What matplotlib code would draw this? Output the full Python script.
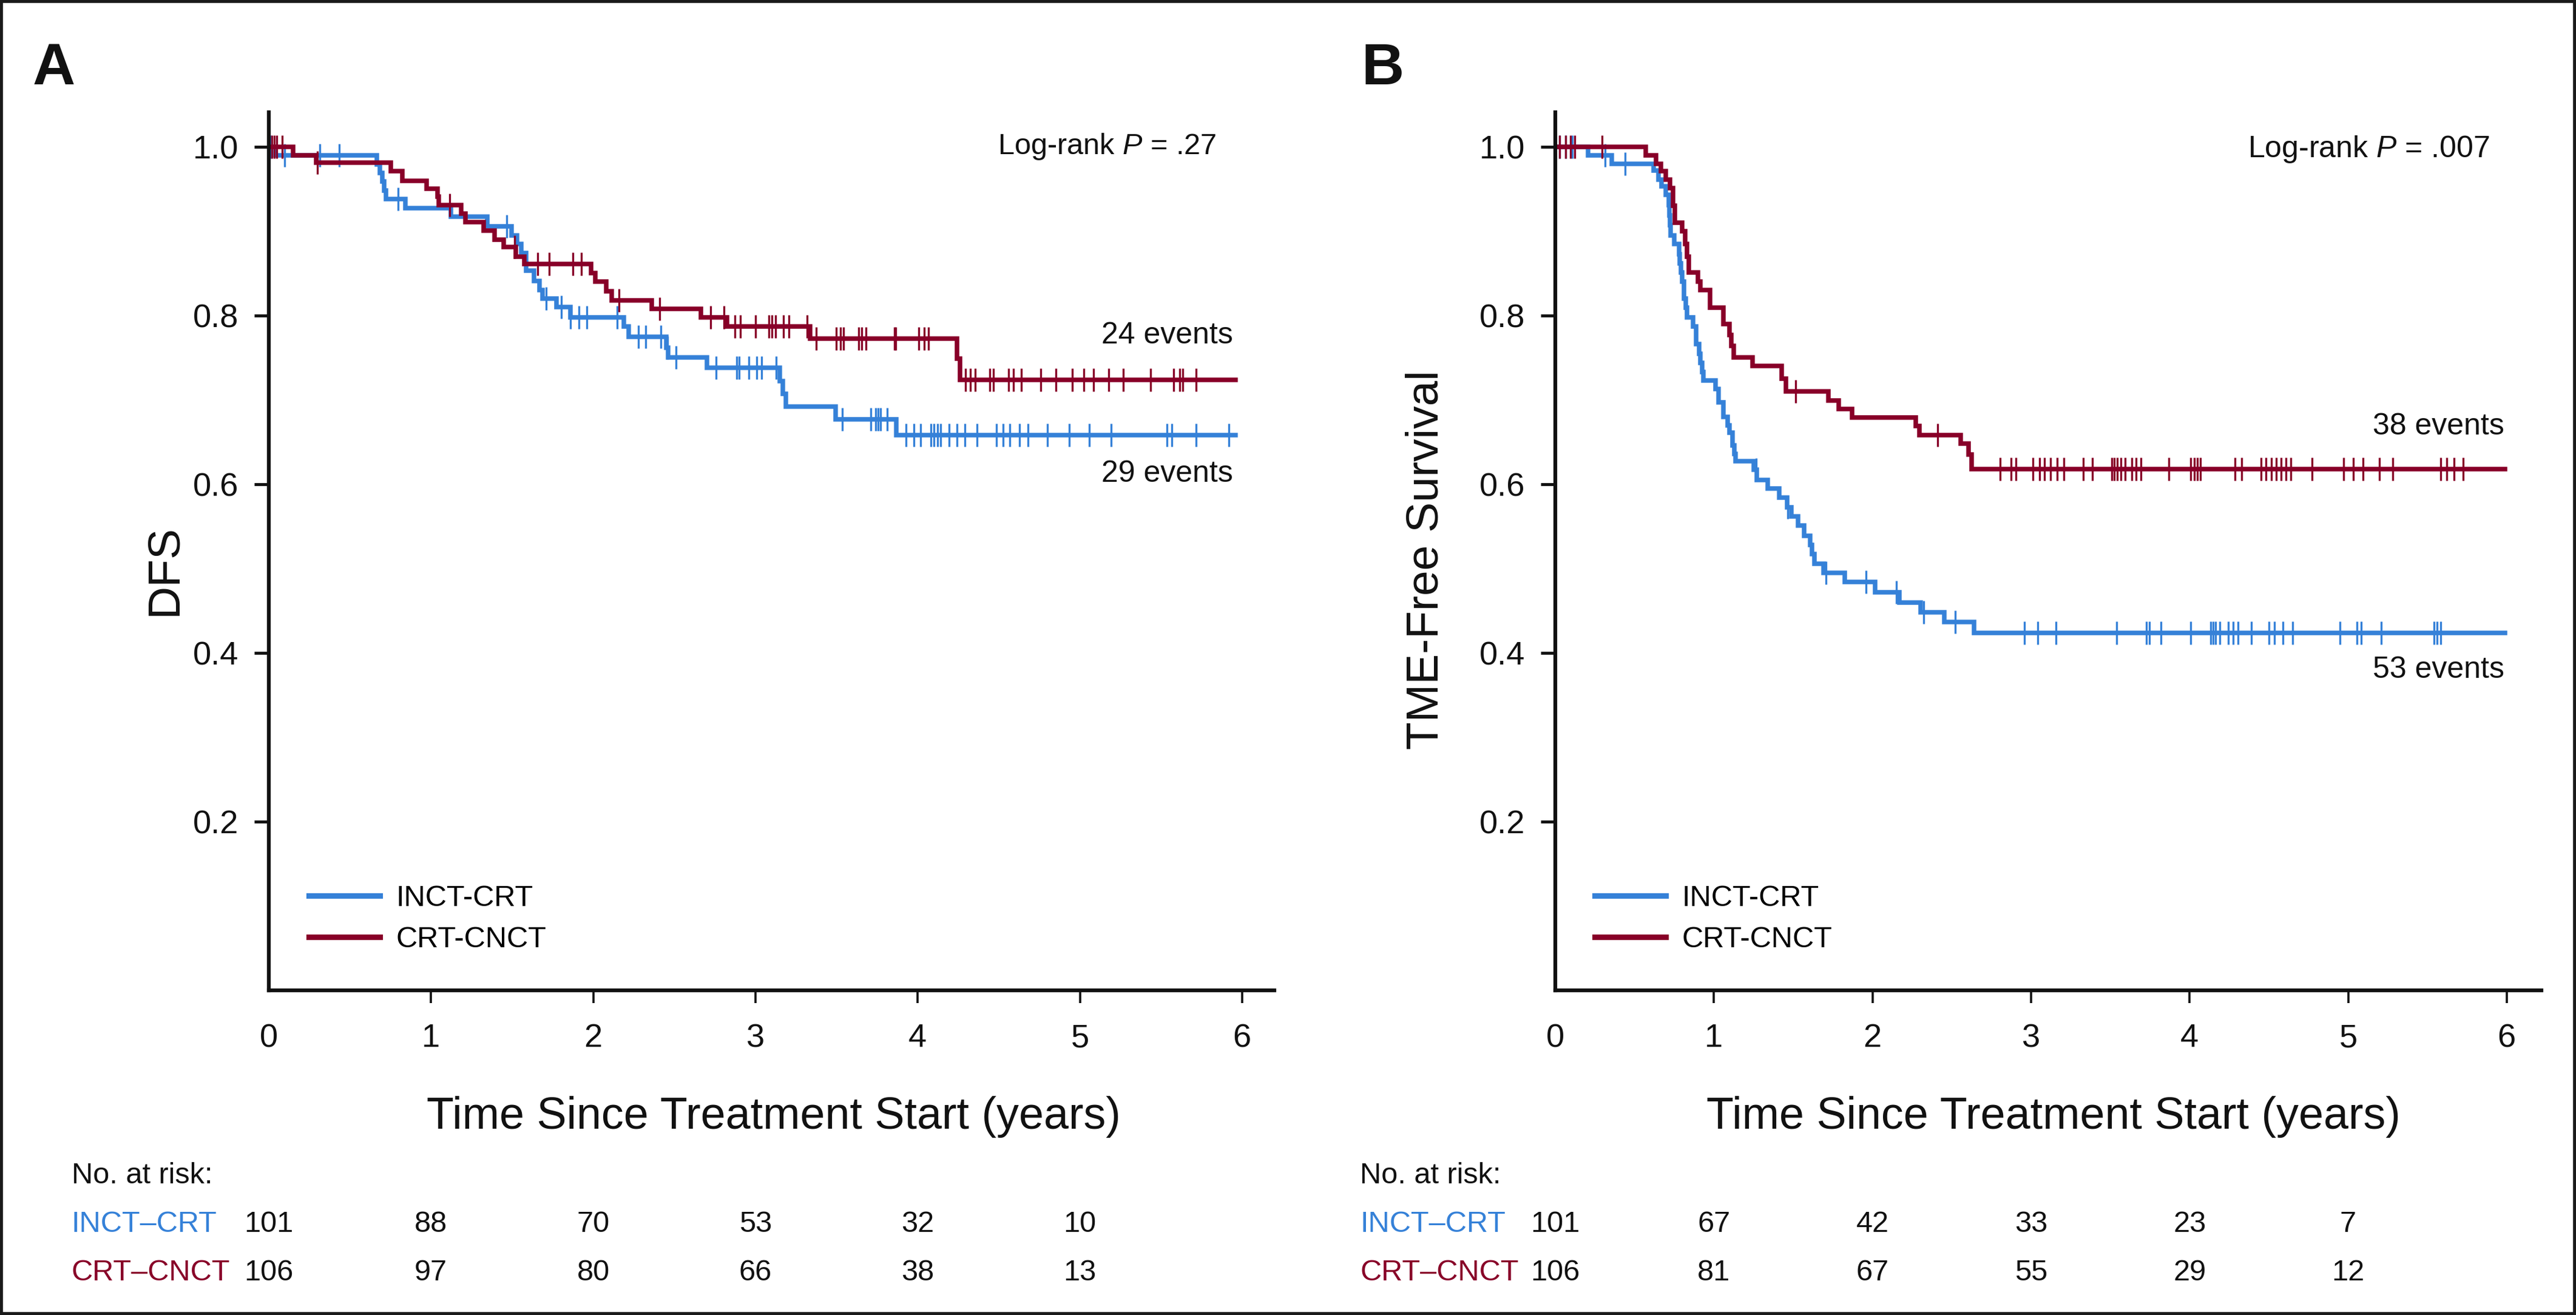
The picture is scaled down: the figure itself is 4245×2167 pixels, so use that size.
import numpy as np
import matplotlib
matplotlib.use('Agg')
import matplotlib.pyplot as plt
import matplotlib.transforms as mtransforms
from matplotlib.patches import Rectangle

plt.rcParams['font.family'] = ['Liberation Sans', 'DejaVu Sans']
plt.rcParams['mathtext.fontset'] = 'custom'
plt.rcParams['mathtext.rm'] = 'Liberation Sans'
plt.rcParams['mathtext.it'] = 'Liberation Sans:italic'

BLUE = '#3581D8'
RED = '#880028'
INK = '#111111'

# ---- panel A : DFS ----
a_inct_t = [0, 0.04, 0.666, 0.683, 0.698, 0.710, 0.722, 0.841, 1.122, 1.348, 1.498, 1.530, 1.555,
            1.586, 1.636, 1.667, 1.686, 1.774, 1.861, 2.187, 2.218, 2.452, 2.462, 2.700, 3.151,
            3.170, 3.189, 3.495, 3.870]
a_inct_s = [1.0, 0.990, 0.979, 0.969, 0.959, 0.948, 0.938, 0.927, 0.917, 0.906, 0.895, 0.885, 0.874,
            0.853, 0.841, 0.830, 0.820, 0.810, 0.798, 0.787, 0.775, 0.762, 0.750, 0.738, 0.722,
            0.707, 0.692, 0.677, 0.658]
a_inct_cens = [0.011, 0.097, 0.313, 0.435, 0.795, 1.467, 1.711, 1.805, 1.861, 1.911, 1.959, 2.149,
               2.278, 2.322, 2.418, 2.459, 2.512, 2.756, 2.885, 2.900, 2.958, 3.009, 3.038, 3.128,
               3.536, 3.710, 3.742, 3.757, 3.770, 3.814, 3.929, 3.978, 4.019, 4.080, 4.100, 4.121,
               4.141, 4.194, 4.243, 4.292, 4.365, 4.487, 4.528, 4.568, 4.629, 4.679, 4.801, 4.935,
               5.058, 5.192, 5.537, 5.566, 5.716, 5.920]

a_crt_t = [0, 0.15, 0.29, 0.753, 0.822, 0.973, 1.041, 1.048, 1.185, 1.211, 1.323, 1.392, 1.448,
           1.523, 1.574, 1.986, 2.011, 2.080, 2.112, 2.362, 2.662, 2.825, 3.338, 4.243, 4.263]
a_crt_s = [1.0, 0.990, 0.981, 0.971, 0.960, 0.950, 0.941, 0.931, 0.921, 0.911, 0.901, 0.890, 0.881,
           0.870, 0.861, 0.850, 0.840, 0.829, 0.818, 0.808, 0.798, 0.787, 0.773, 0.749, 0.724]
a_crt_cens = [0.019, 0.034, 0.047, 0.083, 0.30, 1.116, 1.517, 1.657, 1.730, 1.874, 1.927, 2.159,
              2.409, 2.725, 2.807, 2.875, 2.907, 3.000, 3.081, 3.100, 3.123, 3.173, 3.207, 3.320,
              3.373, 3.498, 3.526, 3.544, 3.636, 3.655, 3.682, 3.857, 3.866, 4.007, 4.039, 4.068,
              4.296, 4.324, 4.353, 4.446, 4.467, 4.560, 4.589, 4.638, 4.760, 4.853, 4.955, 5.024,
              5.085, 5.179, 5.269, 5.436, 5.578, 5.615, 5.635, 5.716]

# ---- panel B : TME-free survival ----
b_inct_t = [0, 0.207, 0.357, 0.620, 0.652, 0.671, 0.697, 0.716, 0.720, 0.725, 0.729, 0.751, 0.780,
            0.786, 0.792, 0.800, 0.811, 0.822, 0.830, 0.869, 0.888, 0.907, 0.915, 0.925, 0.933,
            1.009, 1.028, 1.060, 1.085, 1.100, 1.117, 1.130, 1.137, 1.251, 1.271, 1.341, 1.411,
            1.462, 1.488, 1.532, 1.570, 1.608, 1.618, 1.634, 1.691, 1.825, 2.016, 2.170, 2.304,
            2.452, 2.639]
b_inct_s = [1.0, 0.990, 0.980, 0.972, 0.961, 0.953, 0.943, 0.931, 0.919, 0.907, 0.895, 0.885, 0.873,
            0.862, 0.851, 0.840, 0.820, 0.809, 0.798, 0.787, 0.766, 0.755, 0.744, 0.733, 0.723,
            0.713, 0.697, 0.680, 0.670, 0.661, 0.646, 0.636, 0.627, 0.617, 0.605, 0.595, 0.584,
            0.573, 0.562, 0.551, 0.539, 0.528, 0.517, 0.506, 0.495, 0.484, 0.472, 0.460, 0.448,
            0.437, 0.424]
b_inct_cens = [0.025, 0.066, 0.108, 0.315, 0.44, 1.267, 1.465, 1.708, 1.959, 2.151, 2.323, 2.522,
               2.958, 3.041, 3.157, 3.539, 3.726, 3.746, 3.821, 4.008, 4.132, 4.149, 4.165, 4.190,
               4.244, 4.273, 4.306, 4.389, 4.502, 4.535, 4.589, 4.651, 4.950, 5.054, 5.083, 5.207,
               5.543, 5.560, 5.584]

b_crt_t = [0, 0.569, 0.637, 0.665, 0.697, 0.722, 0.744, 0.755, 0.798, 0.820, 0.830, 0.843, 0.901,
           0.915, 0.977, 1.060, 1.098, 1.110, 1.125, 1.245, 1.427, 1.456, 1.721, 1.787, 1.870,
           2.272, 2.297, 2.556, 2.605, 2.626]
b_crt_s = [1.0, 0.990, 0.980, 0.971, 0.961, 0.951, 0.930, 0.910, 0.900, 0.885, 0.870, 0.851, 0.840,
           0.830, 0.809, 0.790, 0.777, 0.764, 0.750, 0.740, 0.725, 0.710, 0.699, 0.689, 0.679,
           0.669, 0.658, 0.648, 0.635, 0.618]
b_crt_cens = [0.025, 0.066, 0.095, 0.124, 0.295, 1.516, 2.410, 2.805, 2.875, 2.904, 3.012, 3.054,
              3.083, 3.124, 3.165, 3.207, 3.331, 3.385, 3.510, 3.526, 3.543, 3.568, 3.593, 3.634,
              3.663, 3.693, 3.871, 4.008, 4.029, 4.049, 4.070, 4.286, 4.327, 4.452, 4.481, 4.514,
              4.547, 4.576, 4.609, 4.638, 4.771, 4.970, 5.033, 5.095, 5.198, 5.281, 5.584, 5.622,
              5.667, 5.725]

risk_times = [0, 1, 2, 3, 4, 5]
a_risk_inct = [101, 88, 70, 53, 32, 10]
a_risk_crt = [106, 97, 80, 66, 38, 13]
b_risk_inct = [101, 67, 42, 33, 23, 7]
b_risk_crt = [106, 81, 67, 55, 29, 12]

groups = ['INCT-CRT', 'CRT-CNCT']
table_groups = ['INCT\u2013CRT', 'CRT\u2013CNCT']


def km(ax, t, s, cens, end, color, label):
    t = np.asarray(t)
    s = np.asarray(s)
    ax.step(np.r_[t, end], np.r_[s, s[-1]], where='post', color=color, lw=5.4,
            solid_joinstyle='miter', label=label)
    idx = np.searchsorted(t, cens, side='right') - 1
    ax.plot(cens, s[idx], ls='none', marker='|', ms=28, mew=2.4, color=color)


def style(ax, xmax, ylabel, ylab_xy, xlab_x):
    ax.set_xlim(0, xmax)
    ax.set_ylim(0, 1.041)
    for side in ['top', 'right']:
        ax.spines[side].set_visible(False)
    for side in ['left', 'bottom']:
        ax.spines[side].set_linewidth(4.5)
        ax.spines[side].set_color(INK)
    ax.set_xticks(range(7))
    ax.set_yticks([0.2, 0.4, 0.6, 0.8, 1.0])
    ax.set_yticklabels(['0.2', '0.4', '0.6', '0.8', '1.0'])
    ax.tick_params(axis='y', direction='out', length=17, width=3.5, pad=19, labelsize=39, colors=INK)
    ax.tick_params(axis='x', direction='out', length=15, width=2.6, pad=24, labelsize=39, colors=INK)
    ax.xaxis.get_major_ticks()[0].tick1line.set_visible(False)
    ax.set_xlabel('Time Since Treatment Start (years)', fontsize=53, color=INK)
    ax.xaxis.set_label_coords(xlab_x, -0.1444)
    ax.xaxis.label.set_va('center')
    ax.set_ylabel(ylabel, fontsize=54, color=INK)
    ax.yaxis.set_label_coords(*ylab_xy)
    ax.yaxis.label.set_va('center')
    leg = ax.legend(loc='center left', bbox_to_anchor=(0.04, 0.081), frameon=False, fontsize=35,
                    handlelength=2.4, handletextpad=0.55, labelspacing=0.47, borderpad=0,
                    borderaxespad=0)
    for line in leg.get_lines():
        line.set_linewidth(6.5)


fig = plt.figure(figsize=(42.45, 21.67), dpi=100)
W, H = 4245.0, 2167.0
bottom = 1 - 1632 / H
height = 1447 / H
axA = fig.add_axes([443 / W, bottom, 6.2 * 267.3 / W, height])
axB = fig.add_axes([2563 / W, bottom, 6.22 * 261.3 / W, height])

km(axA, a_inct_t, a_inct_s, a_inct_cens, 5.96, BLUE, groups[0])
km(axA, a_crt_t, a_crt_s, a_crt_cens, 5.96, RED, groups[1])
km(axB, b_inct_t, b_inct_s, b_inct_cens, 5.99, BLUE, groups[0])
km(axB, b_crt_t, b_crt_s, b_crt_cens, 5.99, RED, groups[1])

style(axA, 6.2, 'DFS', (-0.1038, 0.479), 0.502)
style(axB, 6.22, 'TME-Free Survival', (-0.131, 0.49), 0.505)

axA.text(5.84, 1.0, 'Log-rank $P$ = .27', ha='right', va='center', fontsize=35, color=INK)
axA.text(5.945, 0.776, '24 events', ha='right', va='center', fontsize=36, color=INK)
axA.text(5.945, 0.612, '29 events', ha='right', va='center', fontsize=36, color=INK)
axB.text(5.89, 0.997, 'Log-rank $P$ = .007', ha='right', va='center', fontsize=36, color=INK)
axB.text(5.985, 0.668, '38 events', ha='right', va='center', fontsize=36, color=INK)
axB.text(5.985, 0.380, '53 events', ha='right', va='center', fontsize=36, color=INK)

# panel letters
fig.text(54 / W, 1 - 139 / H, 'A', fontsize=70, fontweight='bold', va='baseline', color=INK)
fig.text(2243 / W, 1 - 139 / H, 'B', fontsize=70, fontweight='bold', va='baseline', color=INK)

# number at risk tables
y_head, y_row1, y_row2 = 1 - 1938 / H, 1 - 2018 / H, 1 - 2097 / H
for ax, xlab, r1, r2 in [(axA, 118 / W, a_risk_inct, a_risk_crt),
                         (axB, 2241 / W, b_risk_inct, b_risk_crt)]:
    fig.text(xlab, y_head, 'No. at risk:', fontsize=35, va='center', color=INK)
    fig.text(xlab, y_row1, table_groups[0], fontsize=35, va='center', color=BLUE)
    fig.text(xlab, y_row2, table_groups[1], fontsize=35, va='center', color=RED)
    tr = mtransforms.blended_transform_factory(ax.transData, fig.transFigure)
    for t, n1, n2 in zip(risk_times, r1, r2):
        fig.text(t, y_row1, str(n1), transform=tr, ha='center', va='center', fontsize=35, color=INK)
        fig.text(t, y_row2, str(n2), transform=tr, ha='center', va='center', fontsize=35, color=INK)

fig.patches.append(Rectangle((0, 0), 1, 1, transform=fig.transFigure, fill=False,
                             lw=7, edgecolor='#1a1a1a'))

fig.savefig('out.png', dpi=100)
